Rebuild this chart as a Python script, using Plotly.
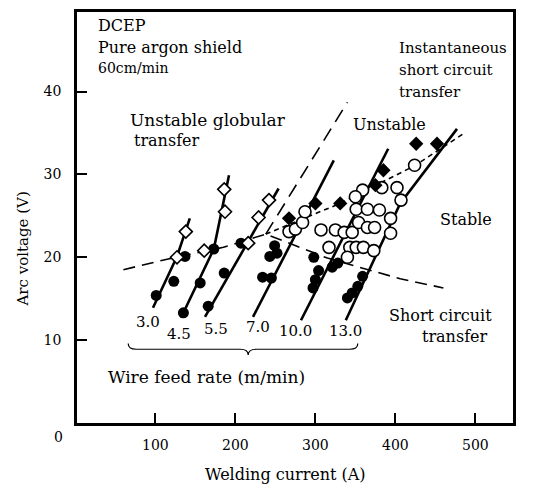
import plotly.graph_objects as go

# ---------------- data ----------------
feed_rates = ["3.0", "4.5", "5.5", "7.0", "10.0", "13.0"]

# fitted solid lines for each wire feed rate (current A, voltage V)
line_I = {
    "3.0": [97, 127, 143],
    "4.5": [132, 173, 192],
    "5.5": [162, 254],
    "7.0": [222, 323],
    "10.0": [282, 391],
    "13.0": [338, 406, 477],
}
line_V = {
    "3.0": [13.9, 20.1, 24.7],
    "4.5": [12.7, 21.0, 29.9],
    "5.5": [12.8, 28.3],
    "7.0": [12.8, 31.7],
    "10.0": [12.4, 33.1],
    "13.0": [12.4, 26.5, 35.5],
}

# short circuit transfer points (filled circles)
short_I = [101, 123, 137, 135, 156, 173, 166, 186, 207,
           234, 245, 243, 252, 249,
           298, 304, 300, 297, 321, 328,
           359, 353, 346, 340]
short_V = [15.4, 17.1, 20.1, 13.3, 16.9, 21.0, 14.1, 18.1, 21.7,
           17.6, 17.5, 20.1, 20.5, 21.4,
           20.0, 18.4, 17.3, 16.3, 18.8, 19.3,
           17.7, 16.5, 15.7, 15.1]

# unstable globular transfer points (open diamonds)
glob_I = [127, 138, 161, 187, 186, 216, 229, 242]
glob_V = [20.0, 23.1, 20.8, 25.5, 28.2, 21.7, 24.8, 26.9]

# stable points (open circles)
stable_I = [267, 275, 284, 287, 307, 325, 336, 346, 317, 343, 351, 360, 373, 340,
            354, 365, 374, 394, 394, 351, 365, 380, 407, 359, 350, 383, 402, 424]
stable_V = [23.1, 23.4, 24.2, 25.5, 23.3, 23.3, 23.0, 23.0, 21.2, 21.2, 21.2, 21.2, 20.8, 20.0,
            24.2, 23.6, 23.6, 24.7, 22.9, 25.8, 25.8, 25.7, 26.9, 28.1, 27.3, 28.4, 28.4, 31.1]

# unstable (instantaneous short circuit) points (filled diamonds)
unst_I = [267, 300, 331, 375, 385, 426, 452]
unst_V = [24.7, 26.5, 26.5, 28.7, 30.5, 33.7, 33.7]

# region boundaries
sc_bound_I = [60, 116, 185, 238, 315, 360, 406, 460]
sc_bound_V = [18.5, 19.8, 21.2, 22.8, 19.9, 18.7, 17.4, 16.3]
glob_bound_I = [238, 340]
glob_bound_V = [22.8, 38.7]
unst_bound_I = [238, 331, 425, 488]
unst_bound_V = [22.8, 26.5, 31.1, 35.1]

# brace under the feed-rate labels (current span, voltage levels)
brace_I = [66, 216, 353]
brace_V = [9.6, 8.9, 8.2]

x_ticks = [100, 200, 300, 400, 500]
y_ticks = [10, 20, 30, 40]

# ---------------- figure ----------------
FONT = "DejaVu Serif"
fig = go.Figure()

for fr in feed_rates:
    fig.add_trace(go.Scatter(x=line_I[fr], y=line_V[fr], mode="lines",
                             line=dict(color="black", width=2.6), hoverinfo="skip"))

fig.add_trace(go.Scatter(x=sc_bound_I, y=sc_bound_V, mode="lines",
                         line=dict(color="black", width=1.6, dash="12px,7px")))
fig.add_trace(go.Scatter(x=glob_bound_I, y=glob_bound_V, mode="lines",
                         line=dict(color="black", width=1.6, dash="14px,8px")))
fig.add_trace(go.Scatter(x=unst_bound_I, y=unst_bound_V, mode="lines",
                         line=dict(color="black", width=1.6, dash="5px,4px")))

fig.add_trace(go.Scatter(x=short_I, y=short_V, mode="markers",
                         marker=dict(symbol="circle", size=11, color="black",
                                     line=dict(color="black", width=0))))
fig.add_trace(go.Scatter(x=glob_I, y=glob_V, mode="markers",
                         marker=dict(symbol="diamond", size=10, color="white",
                                     line=dict(color="black", width=1.6))))
fig.add_trace(go.Scatter(x=stable_I, y=stable_V, mode="markers",
                         marker=dict(symbol="circle", size=12, color="white",
                                     line=dict(color="black", width=1.6))))
fig.add_trace(go.Scatter(x=unst_I, y=unst_V, mode="markers",
                         marker=dict(symbol="diamond", size=11, color="black",
                                     line=dict(color="black", width=0))))

# brace
x0, xc, x1 = brace_I
y0, ym, yb = brace_V
brace_path = (f"M {x0},{y0} Q {x0},{ym} {x0+10},{ym} L {xc-10},{ym} "
              f"Q {xc},{ym} {xc},{yb} Q {xc},{ym} {xc+10},{ym} "
              f"L {x1-10},{ym} Q {x1},{ym} {x1},{y0}")
fig.add_shape(type="path", path=brace_path, xref="x", yref="y",
              line=dict(color="black", width=1.2))

ann = []
def txt(x, y, s, size=16, xanchor="left", **kw):
    ann.append(dict(x=x, y=y, text=s, showarrow=False, xanchor=xanchor, yanchor="middle",
                    font=dict(family=FONT, size=size, color="black"), **kw))

txt(26, 48.0, "DCEP", 16)
txt(26, 45.3, "Pure argon shield", 16)
txt(26, 42.8, "60cm/min", 14)
txt(66, 36.6, "Unstable globular", 17)
txt(71, 34.1, "transfer", 16)
txt(402, 45.3, "Instantaneous", 15)
txt(402, 42.6, "short circuit", 15)
txt(402, 39.9, "transfer", 15)
txt(392, 36.0, "Unstable", xanchor="center")
txt(488, 24.6, "Stable", xanchor="center")
txt(390, 13.0, "Short circuit")
txt(431, 10.4, "transfer")
txt(164, 5.5, "Wire feed rate (m/min)", 17, xanchor="center")

label_pos = [(91, 12.2), (130, 10.7), (176, 11.4), (228, 11.6), (275, 11.1), (338, 11.1)]
for fr, (lx, ly) in zip(feed_rates, label_pos):
    txt(lx, ly, fr, 15, xanchor="center")

# axis titles and origin label
ann.append(dict(x=263, y=-0.126, xref="x", yref="paper", text="Welding current (A)",
                xanchor="center", yanchor="middle", showarrow=False,
                font=dict(family=FONT, size=16, color="black")))
ann.append(dict(x=-0.125, y=21.0, xref="paper", yref="y", text="Arc voltage (V)",
                xanchor="center", yanchor="middle", textangle=-90, showarrow=False,
                font=dict(family=FONT, size=15, color="black")))
ann.append(dict(x=-0.043, y=-0.034, xref="paper", yref="paper", text="0",
                xanchor="center", yanchor="middle", showarrow=False,
                font=dict(family=FONT, size=14, color="black")))

fig.update_layout(
    width=533, height=493,
    margin=dict(l=77, r=20, t=9, b=70),
    paper_bgcolor="white", plot_bgcolor="white",
    showlegend=False,
    annotations=ann,
    xaxis=dict(range=[2, 547], tickvals=x_ticks, ticks="inside", ticklen=10, tickwidth=2,
               tickcolor="black", showline=True, linecolor="black", linewidth=2.5,
               mirror=True, showgrid=False, zeroline=False, ticklabelstandoff=7,
               tickfont=dict(family=FONT, size=14, color="black")),
    yaxis=dict(range=[0, 49.6], tickvals=y_ticks, ticks="inside", ticklen=10, tickwidth=2,
               tickcolor="black", showline=True, linecolor="black", linewidth=2.5,
               mirror=True, showgrid=False, zeroline=False, ticklabelstandoff=10,
               tickfont=dict(family=FONT, size=14, color="black")),
)

fig.write_html("out.html", config={"displayModeBar": False},
               post_script="document.body.style.margin='0px';")
